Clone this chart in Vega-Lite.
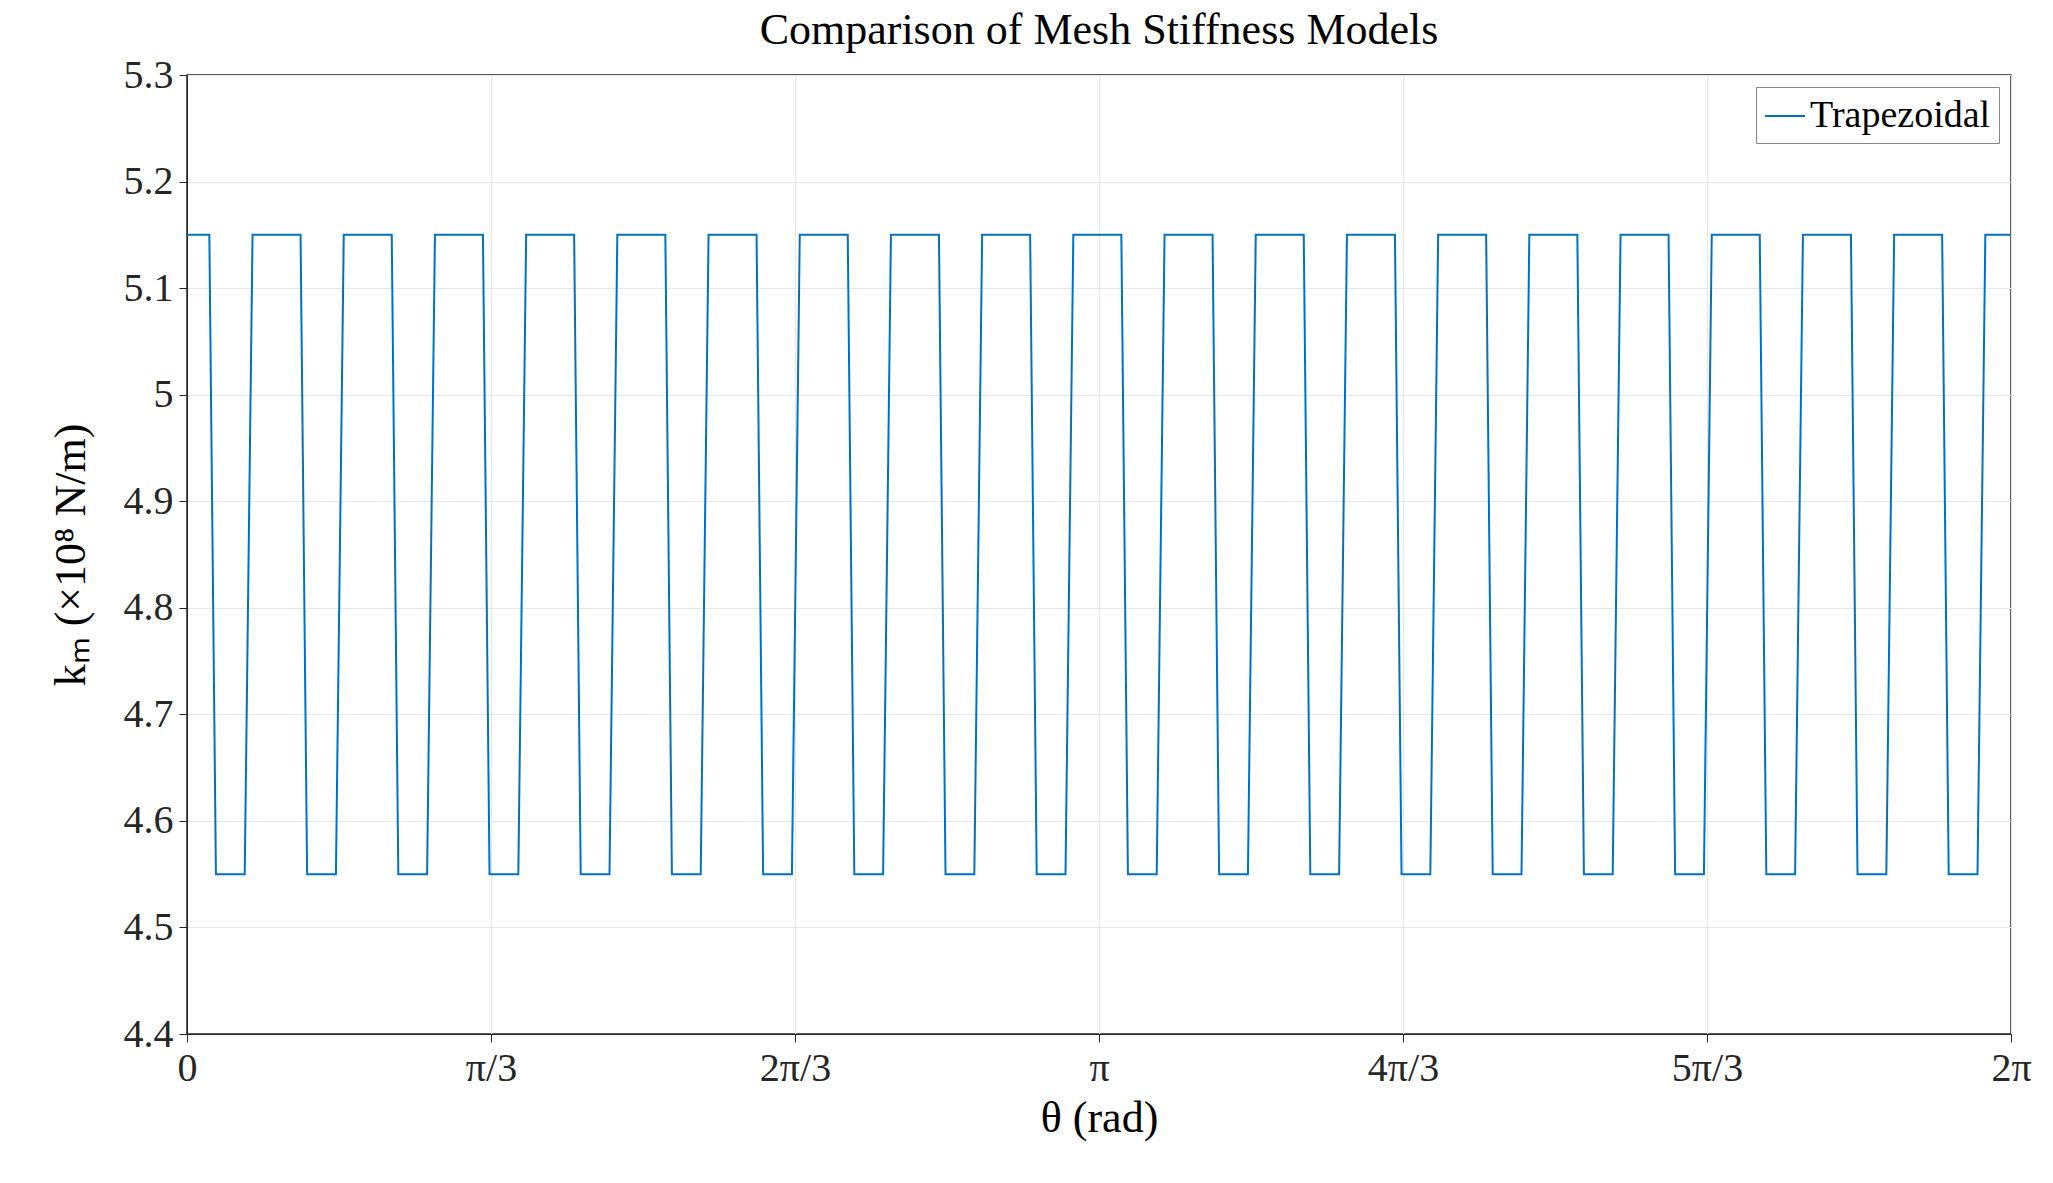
{
  "$schema": "https://vega.github.io/schema/vega-lite/v6.json",
  "autosize": "none",
  "width": 1824,
  "height": 959,
  "padding": {"left": 187, "top": 75, "right": 42, "bottom": 149},
  "background": "white",
  "title": {"text": "Comparison of Mesh Stiffness Models", "font": "Liberation Serif", "fontSize": 44, "fontWeight": "normal", "color": "black", "offset": 2},
  "data": {
    "values": [
      {"theta": 0.0, "km": 5.15, "model": "Trapezoidal"},
      {"theta": 0.0770, "km": 5.15, "model": "Trapezoidal"}, {"theta": 0.0996, "km": 4.55, "model": "Trapezoidal"}, {"theta": 0.1988, "km": 4.55, "model": "Trapezoidal"}, {"theta": 0.2258, "km": 5.15, "model": "Trapezoidal"},
      {"theta": 0.3912, "km": 5.15, "model": "Trapezoidal"}, {"theta": 0.4138, "km": 4.55, "model": "Trapezoidal"}, {"theta": 0.5130, "km": 4.55, "model": "Trapezoidal"}, {"theta": 0.5400, "km": 5.15, "model": "Trapezoidal"},
      {"theta": 0.7053, "km": 5.15, "model": "Trapezoidal"}, {"theta": 0.7279, "km": 4.55, "model": "Trapezoidal"}, {"theta": 0.8271, "km": 4.55, "model": "Trapezoidal"}, {"theta": 0.8541, "km": 5.15, "model": "Trapezoidal"},
      {"theta": 1.0195, "km": 5.15, "model": "Trapezoidal"}, {"theta": 1.0421, "km": 4.55, "model": "Trapezoidal"}, {"theta": 1.1413, "km": 4.55, "model": "Trapezoidal"}, {"theta": 1.1683, "km": 5.15, "model": "Trapezoidal"},
      {"theta": 1.3336, "km": 5.15, "model": "Trapezoidal"}, {"theta": 1.3562, "km": 4.55, "model": "Trapezoidal"}, {"theta": 1.4554, "km": 4.55, "model": "Trapezoidal"}, {"theta": 1.4824, "km": 5.15, "model": "Trapezoidal"},
      {"theta": 1.6478, "km": 5.15, "model": "Trapezoidal"}, {"theta": 1.6704, "km": 4.55, "model": "Trapezoidal"}, {"theta": 1.7696, "km": 4.55, "model": "Trapezoidal"}, {"theta": 1.7966, "km": 5.15, "model": "Trapezoidal"},
      {"theta": 1.9620, "km": 5.15, "model": "Trapezoidal"}, {"theta": 1.9846, "km": 4.55, "model": "Trapezoidal"}, {"theta": 2.0838, "km": 4.55, "model": "Trapezoidal"}, {"theta": 2.1108, "km": 5.15, "model": "Trapezoidal"},
      {"theta": 2.2761, "km": 5.15, "model": "Trapezoidal"}, {"theta": 2.2987, "km": 4.55, "model": "Trapezoidal"}, {"theta": 2.3979, "km": 4.55, "model": "Trapezoidal"}, {"theta": 2.4249, "km": 5.15, "model": "Trapezoidal"},
      {"theta": 2.5903, "km": 5.15, "model": "Trapezoidal"}, {"theta": 2.6129, "km": 4.55, "model": "Trapezoidal"}, {"theta": 2.7121, "km": 4.55, "model": "Trapezoidal"}, {"theta": 2.7391, "km": 5.15, "model": "Trapezoidal"},
      {"theta": 2.9044, "km": 5.15, "model": "Trapezoidal"}, {"theta": 2.9270, "km": 4.55, "model": "Trapezoidal"}, {"theta": 3.0262, "km": 4.55, "model": "Trapezoidal"}, {"theta": 3.0532, "km": 5.15, "model": "Trapezoidal"},
      {"theta": 3.2186, "km": 5.15, "model": "Trapezoidal"}, {"theta": 3.2412, "km": 4.55, "model": "Trapezoidal"}, {"theta": 3.3404, "km": 4.55, "model": "Trapezoidal"}, {"theta": 3.3674, "km": 5.15, "model": "Trapezoidal"},
      {"theta": 3.5328, "km": 5.15, "model": "Trapezoidal"}, {"theta": 3.5554, "km": 4.55, "model": "Trapezoidal"}, {"theta": 3.6546, "km": 4.55, "model": "Trapezoidal"}, {"theta": 3.6816, "km": 5.15, "model": "Trapezoidal"},
      {"theta": 3.8469, "km": 5.15, "model": "Trapezoidal"}, {"theta": 3.8695, "km": 4.55, "model": "Trapezoidal"}, {"theta": 3.9687, "km": 4.55, "model": "Trapezoidal"}, {"theta": 3.9957, "km": 5.15, "model": "Trapezoidal"},
      {"theta": 4.1611, "km": 5.15, "model": "Trapezoidal"}, {"theta": 4.1837, "km": 4.55, "model": "Trapezoidal"}, {"theta": 4.2829, "km": 4.55, "model": "Trapezoidal"}, {"theta": 4.3099, "km": 5.15, "model": "Trapezoidal"},
      {"theta": 4.4752, "km": 5.15, "model": "Trapezoidal"}, {"theta": 4.4978, "km": 4.55, "model": "Trapezoidal"}, {"theta": 4.5970, "km": 4.55, "model": "Trapezoidal"}, {"theta": 4.6240, "km": 5.15, "model": "Trapezoidal"},
      {"theta": 4.7894, "km": 5.15, "model": "Trapezoidal"}, {"theta": 4.8120, "km": 4.55, "model": "Trapezoidal"}, {"theta": 4.9112, "km": 4.55, "model": "Trapezoidal"}, {"theta": 4.9382, "km": 5.15, "model": "Trapezoidal"},
      {"theta": 5.1036, "km": 5.15, "model": "Trapezoidal"}, {"theta": 5.1262, "km": 4.55, "model": "Trapezoidal"}, {"theta": 5.2254, "km": 4.55, "model": "Trapezoidal"}, {"theta": 5.2524, "km": 5.15, "model": "Trapezoidal"},
      {"theta": 5.4177, "km": 5.15, "model": "Trapezoidal"}, {"theta": 5.4403, "km": 4.55, "model": "Trapezoidal"}, {"theta": 5.5395, "km": 4.55, "model": "Trapezoidal"}, {"theta": 5.5665, "km": 5.15, "model": "Trapezoidal"},
      {"theta": 5.7319, "km": 5.15, "model": "Trapezoidal"}, {"theta": 5.7545, "km": 4.55, "model": "Trapezoidal"}, {"theta": 5.8537, "km": 4.55, "model": "Trapezoidal"}, {"theta": 5.8807, "km": 5.15, "model": "Trapezoidal"},
      {"theta": 6.0460, "km": 5.15, "model": "Trapezoidal"}, {"theta": 6.0686, "km": 4.55, "model": "Trapezoidal"}, {"theta": 6.1678, "km": 4.55, "model": "Trapezoidal"}, {"theta": 6.1948, "km": 5.15, "model": "Trapezoidal"},
      {"theta": 6.2832, "km": 5.15, "model": "Trapezoidal"}
    ]
  },
  "mark": {"type": "line", "strokeWidth": 2},
  "encoding": {
    "x": {
      "field": "theta", "type": "quantitative", "title": "θ (rad)",
      "scale": {"domain": [0, 6.2832], "nice": false, "zero": false},
      "axis": {
        "values": [0, 1.0472, 2.0944, 3.1416, 4.1888, 5.236, 6.2832],
        "labelExpr": "['0','π/3','2π/3','π','4π/3','5π/3','2π'][round(datum.value*3/PI)]",
        "labelFlush": false
      }
    },
    "y": {
      "field": "km", "type": "quantitative", "title": "kₘ (×10⁸ N/m)",
      "scale": {"domain": [4.4, 5.3], "nice": false, "zero": false},
      "axis": {"values": [4.4, 4.5, 4.6, 4.7, 4.8, 4.9, 5.0, 5.1, 5.2, 5.3], "labelExpr": "format(datum.value, '.1~f')"}
    },
    "color": {
      "field": "model", "type": "nominal",
      "scale": {"range": ["#0072BD"]},
      "legend": {
        "title": null, "orient": "top-right", "offset": 12,
        "strokeColor": "#888888", "fillColor": "white", "padding": 8,
        "symbolType": "stroke", "symbolSize": 1600, "symbolStrokeWidth": 2,
        "labelFont": "Liberation Serif", "labelFontSize": 38, "labelColor": "black", "labelLimit": 500
      }
    }
  },
  "config": {
    "view": {"stroke": "#262626", "strokeWidth": 1.5},
    "axis": {
      "labelFont": "Liberation Serif", "labelFontSize": 40, "labelColor": "#262626",
      "titleFont": "Liberation Serif", "titleFontSize": 44, "titleFontWeight": "normal", "titleColor": "black",
      "gridColor": "#e6e6e6", "domainColor": "#262626", "tickColor": "#262626", "tickSize": 8,
      "labelPadding": 6
    },
    "axisY": {"titlePadding": 30},
    "axisX": {"titlePadding": 8}
  }
}
